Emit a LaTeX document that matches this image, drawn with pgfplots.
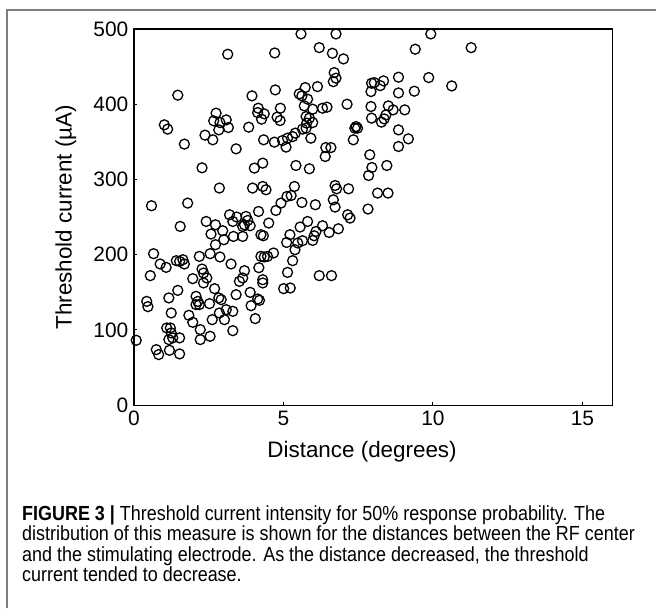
\documentclass[border=0pt]{standalone}
\usepackage{pgfplots}
\pgfplotsset{compat=1.18}
\usepackage{fontspec}
\setmainfont{Liberation Sans}
\newfontfamily\capfont[FakeStretch=0.88]{Liberation Sans}
\definecolor{framegray}{RGB}{125,125,125}
\begin{document}
\begin{tikzpicture}
\path (0,0) rectangle (657bp,609bp);
\draw[framegray, line width=1.5bp] (7bp,0) -- (7bp,599bp) -- (657bp,599bp);
\begin{axis}[
  at={(134bp,203.3bp)}, anchor=south west,
  scale only axis, width=479bp, height=376.7bp,
  xmin=0, xmax=16, ymin=0, ymax=500,
  xtick={0,5,10,15}, ytick={0,100,200,300,400,500},
  xtick pos=left, ytick pos=left,
  tick align=inside, major tick length=3bp,
  axis line style={line width=1.4bp, black},
  tick style={line width=1bp, black},
  /pgf/number format/assume math mode=true,
  ticklabel style={font=\fontsize{21}{21}\selectfont},
  yticklabel style={xshift=-2bp},
  xticklabel style={yshift=-2bp},
  xlabel={Distance (degrees)},
  ylabel={Threshold current (µA)},
  label style={font=\fontsize{22.5}{22.5}\selectfont},
  x label style={at={(axis description cs:0.477,-0.123)}, anchor=center},
  y label style={at={(axis description cs:-0.142,0.5)}, anchor=center},
  clip=false,
]
\addplot[only marks, mark=o, mark size=5bp, line width=1.3bp, black] table {
x y
3.14 466.4
1.47 412.0
2.75 388.1
1.02 372.6
1.13 366.9
2.67 377.9
2.88 375.6
3.09 379.2
3.16 369.0
2.84 365.9
2.38 358.9
2.64 352.7
1.69 347.0
2.28 315.5
2.86 288.6
0.59 265.1
1.80 268.6
1.55 237.6
2.42 244.2
2.73 239.8
2.58 227.5
2.97 231.9
3.01 219.9
2.73 213.3
2.55 201.4
2.88 197.0
2.19 197.8
2.28 181.0
2.33 175.7
2.44 169.1
1.97 168.2
2.33 162.5
2.70 154.9
1.47 152.6
1.17 142.6
0.66 201.4
0.88 187.7
1.08 183.2
1.42 192.1
1.53 191.1
1.64 193.4
1.69 187.7
0.55 172.2
0.43 138.0
0.47 131.0
2.08 144.7
2.14 138.0
2.19 133.7
2.08 133.7
2.53 135.0
2.84 142.6
2.92 140.3
3.09 127.0
2.86 122.6
3.03 113.7
2.62 113.7
1.25 122.6
1.84 119.5
1.97 110.2
2.22 100.5
2.55 91.6
2.22 87.2
1.10 102.7
1.22 102.7
1.25 96.1
1.17 87.2
1.30 89.5
1.53 89.5
1.19 73.0
1.53 68.2
0.75 73.9
0.83 67.3
0.08 86.3
5.59 493.4
6.20 475.2
4.71 468.1
4.73 419.0
5.53 413.7
5.73 422.1
5.62 411.1
5.81 406.7
6.14 423.4
3.95 411.1
4.90 394.7
4.16 394.7
4.14 388.9
4.36 387.2
4.27 380.1
4.79 382.8
4.89 378.3
5.70 397.8
5.98 393.4
6.31 394.7
6.46 396.1
5.76 383.6
5.87 381.5
5.78 374.8
5.98 375.6
5.64 366.9
5.76 368.2
3.84 369.5
5.40 361.6
5.31 357.0
5.14 354.9
4.97 351.7
4.70 349.6
5.09 343.0
4.34 352.7
5.92 354.9
3.42 340.7
6.42 342.4
6.59 342.4
6.40 330.5
4.03 315.1
4.31 321.7
5.42 318.6
5.87 314.2
3.97 288.6
4.31 290.7
4.42 286.3
5.37 290.7
5.12 277.4
5.26 278.7
5.62 269.4
6.07 266.4
4.75 258.8
4.92 268.6
4.17 257.5
3.20 253.1
3.31 244.2
3.44 250.1
3.75 250.9
3.81 245.6
3.70 239.8
3.89 238.5
3.64 237.6
4.51 242.1
3.33 224.3
3.64 224.3
4.25 226.6
4.33 225.2
5.11 216.3
5.22 226.6
5.48 215.6
5.64 218.6
5.56 236.8
5.81 244.2
5.98 219.0
6.03 225.2
6.09 230.9
6.31 238.5
6.53 229.6
4.25 197.8
4.36 197.0
4.47 197.8
4.67 202.3
4.18 182.8
5.39 206.7
5.31 192.1
5.14 176.5
3.25 187.7
3.70 178.8
3.64 169.1
3.53 164.6
4.31 166.8
4.31 162.5
3.89 150.0
4.14 141.2
4.20 139.4
3.92 132.3
4.06 115.1
5.01 154.9
5.23 155.8
6.20 172.2
6.61 172.2
3.31 124.8
3.31 99.1
3.42 146.9
6.76 493.4
9.93 493.4
9.41 473.1
11.28 475.2
6.64 467.7
7.01 460.2
6.70 442.0
6.76 434.6
6.67 430.0
7.95 427.9
8.04 428.7
8.35 431.0
8.24 424.7
7.93 416.8
8.85 435.9
8.85 415.0
9.38 417.3
9.86 435.4
10.63 424.3
7.13 400.0
7.93 396.9
8.51 397.8
8.67 392.5
9.06 392.5
8.43 385.8
8.37 380.5
8.28 376.2
7.95 381.5
7.43 370.3
7.48 368.2
7.39 368.2
7.34 352.7
8.85 365.9
9.18 354.0
8.85 343.8
7.89 332.8
7.96 315.9
8.46 318.6
7.85 305.3
6.73 292.0
6.78 287.6
7.18 287.6
8.15 281.9
8.50 281.9
6.67 273.0
6.73 263.3
7.83 260.7
7.15 253.1
7.23 248.7
6.84 234.5
};
\end{axis}
\begin{scope}[every node/.style={anchor=base west, inner sep=0pt, font=\capfont\fontsize{20.5}{20.5}\selectfont}]
\node at (22bp,88bp) {\textbf{FIGURE 3 |} Threshold current intensity for 50\% response probability. The};
\node at (22bp,67.5bp) {distribution of this measure is shown for the distances between the RF center};
\node at (22bp,47bp) {and the stimulating electrode. As the distance decreased, the threshold};
\node at (22bp,26.5bp) {current tended to decrease.};
\end{scope}
\end{tikzpicture}
\end{document}
